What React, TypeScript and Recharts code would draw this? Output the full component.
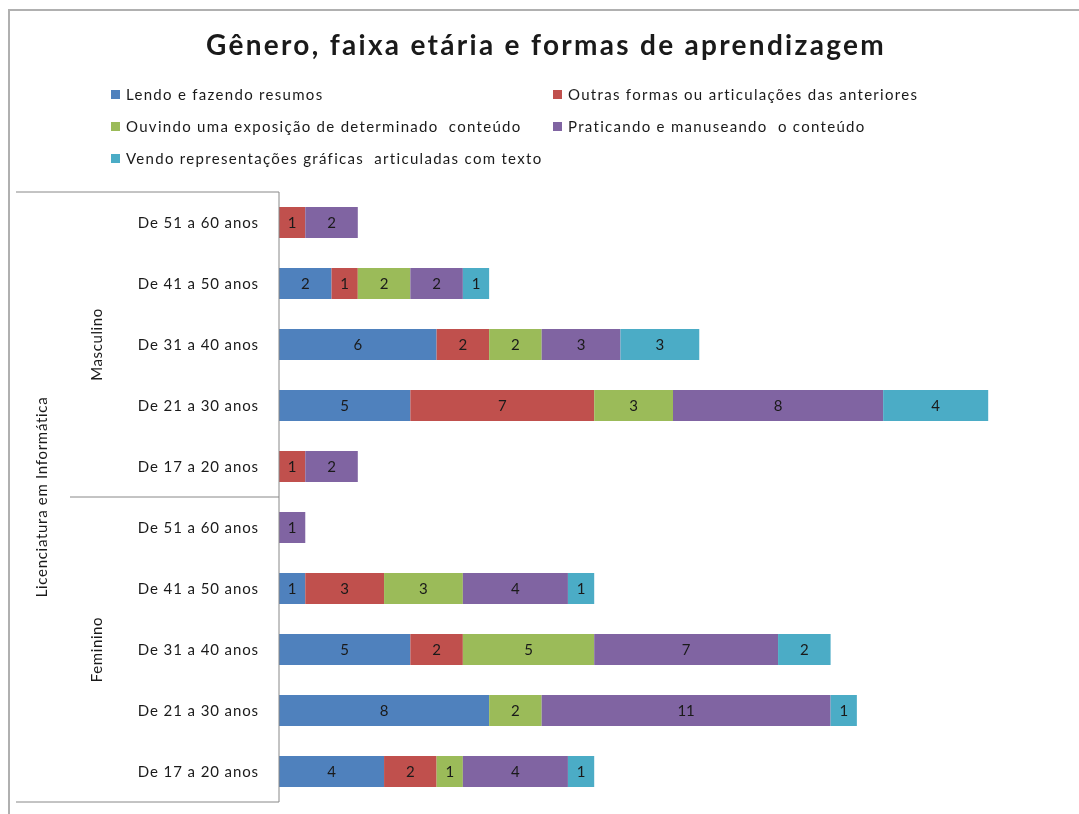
import React from 'react';
import { BarChart, Bar, XAxis, YAxis, LabelList } from 'recharts';

const ages = ['De 51 a 60 anos', 'De 41 a 50 anos', 'De 31 a 40 anos', 'De 21 a 30 anos', 'De 17 a 20 anos'];
const genders = ['Masculino', 'Feminino'];
const course = 'Licenciatura em Informática';

const seriesNames = [
  'Lendo e fazendo resumos',
  'Outras formas ou articulações das anteriores',
  'Ouvindo uma exposição de determinado  conteúdo',
  'Praticando e manuseando  o conteúdo',
  'Vendo representações gráficas  articuladas com texto',
];
const seriesColors = ['#4F81BD', '#C0504D', '#9BBB59', '#8064A2', '#4BACC6'];

// rows: Masculino 51-60 .. 17-20, then Feminino 51-60 .. 17-20
const lendo = [0, 2, 6, 5, 0, 0, 1, 5, 8, 4];
const outras = [1, 1, 2, 7, 1, 0, 3, 2, 0, 2];
const ouvindo = [0, 2, 2, 3, 0, 0, 3, 5, 2, 1];
const praticando = [2, 2, 3, 8, 2, 1, 4, 7, 11, 4];
const vendo = [0, 1, 3, 4, 0, 0, 1, 2, 1, 1];
const seriesValues = [lendo, outras, ouvindo, praticando, vendo];

const rows = genders.flatMap((g) => ages.map((a) => ({ gender: g, age: a })));
const data = rows.map((r, i) => {
  const d: any = { key: String(i) };
  seriesValues.forEach((vals, s) => {
    d[`s${s}`] = vals[i];
  });
  return d;
});

const W = 1063;
const H = 798;
const margin = { top: 184, right: 4, bottom: 4, left: 0 };
const yAxisW = 271;
const axisX = margin.left + yAxisW;
const rowH = (H - margin.top - margin.bottom) / rows.length;
const font = 'Lato, "Noto Sans", sans-serif';
const textColor = '#1a1a1a';
const lineColor = '#888';

const CategoryTick = (props: any) => {
  const { y, payload } = props;
  const i = Number(payload.value);
  const per = ages.length;
  const inGroup = i % per;
  return (
    <g>
      <text
        x={axisX - 20}
        y={y}
        dy={5}
        textAnchor="end"
        fontSize={15}
        letterSpacing={0.9}
        fill={textColor}
        fontFamily={font}
      >
        {rows[i].age}
      </text>
      {i === 0 && <line x1={8} x2={axisX} y1={y - rowH / 2} y2={y - rowH / 2} stroke={lineColor} />}
      {i === rows.length - 1 && <line x1={8} x2={axisX} y1={y + rowH / 2} y2={y + rowH / 2} stroke={lineColor} />}
      {inGroup === per - 1 && i !== rows.length - 1 && (
        <line x1={62} x2={axisX} y1={y + rowH / 2} y2={y + rowH / 2} stroke={lineColor} />
      )}
      {inGroup === Math.floor(per / 2) && (
        <text
          x={89}
          y={y}
          transform={`rotate(-90 89 ${y})`}
          textAnchor="middle"
          dy={5}
          fontSize={15}
          letterSpacing={0.6}
          fill={textColor}
          fontFamily={font}
        >
          {rows[i].gender}
        </text>
      )}
      {i === rows.length / 2 - 1 && (
        <text
          x={34}
          y={y + rowH / 2}
          transform={`rotate(-90 34 ${y + rowH / 2})`}
          textAnchor="middle"
          dy={5}
          fontSize={15}
          letterSpacing={0.7}
          fill={textColor}
          fontFamily={font}
        >
          {course}
        </text>
      )}
    </g>
  );
};

export default function App() {
  return (
    <div style={{ position: 'relative', width: W, height: H, fontFamily: font, color: textColor }}>
      {/* chart frame, only its top and left edges fall inside the window */}
      <div
        style={{
          position: 'fixed',
          left: 8,
          top: 9,
          right: -20,
          bottom: -20,
          border: '2px solid #b0b0b0',
          pointerEvents: 'none',
        }}
      />
      <div
        style={{
          position: 'absolute',
          left: 0,
          width: W,
          paddingLeft: 13,
          boxSizing: 'border-box',
          top: 18,
          textAlign: 'center',
          fontSize: 28,
          fontWeight: 700,
          letterSpacing: 2.3,
          lineHeight: '36px',
          whiteSpace: 'nowrap',
        }}
      >
        Gênero, faixa etária e formas de aprendizagem
      </div>
      {seriesNames.map((name, s) => (
        <div
          key={name}
          style={{
            position: 'absolute',
            left: s % 2 === 0 ? 103 : 545,
            top: 86 + Math.floor(s / 2) * 32 - 10,
            height: 20,
            display: 'flex',
            alignItems: 'center',
            fontSize: 15,
            letterSpacing: 1.3,
            whiteSpace: 'pre',
          }}
        >
          <span style={{ width: 9, height: 9, background: seriesColors[s], marginRight: 6, display: 'inline-block' }} />
          {name}
        </div>
      ))}
      <div style={{ position: 'absolute', left: 0, top: 0 }}>
        <BarChart width={W} height={H} data={data} layout="vertical" margin={margin}>
          <XAxis type="number" domain={[0, 30]} hide />
          <YAxis
            type="category"
            dataKey="key"
            width={yAxisW}
            axisLine={{ stroke: lineColor }}
            tickLine={false}
            tick={<CategoryTick />}
            interval={0}
          />
          {seriesNames.map((name, s) => (
            <Bar
              key={name}
              dataKey={`s${s}`}
              name={name}
              stackId="a"
              fill={seriesColors[s]}
              barSize={31}
              isAnimationActive={false}
            >
              <LabelList
                dataKey={`s${s}`}
                position="center"
                fill={textColor}
                fontSize={15}
                fontFamily={font}
                formatter={(v: any) => (v > 0 ? v : '')}
              />
            </Bar>
          ))}
        </BarChart>
      </div>
    </div>
  );
}
